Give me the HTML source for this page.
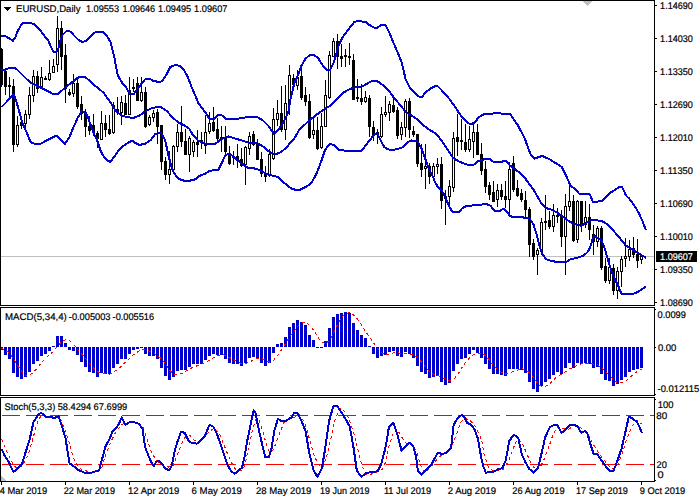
<!DOCTYPE html>
<html><head><meta charset="utf-8"><title>EURUSD,Daily</title>
<style>html,body{margin:0;padding:0;background:#fff;width:700px;height:500px;overflow:hidden}svg{display:block}</style>
</head><body>
<svg width="700" height="500" viewBox="0 0 700 500" shape-rendering="crispEdges">
<rect x="0" y="0" width="700" height="500" fill="#fff"/>
<rect x="1" y="256" width="653" height="1" fill="#c0c0c0"/>
<path d="M1.5 48V49M1.5 85V87M5.5 70V71M5.5 87V95M9.5 77V85M9.5 87V97M13.5 79V86M13.5 145V152M17.5 116V125M17.5 145V147M21.5 118V122M21.5 126V129M25.5 110V114M25.5 124V130M29.5 87V95M29.5 115V119M33.5 70V76M33.5 96V102M37.5 71V76M37.5 89V93M41.5 67V77M41.5 87V89M45.5 76V78M49.5 60V73M49.5 80V81M53.5 59V66M57.5 16V28M57.5 65V72M61.5 21V28M61.5 57V70M65.5 44V55M65.5 89V103M69.5 89V92M69.5 95V96M73.5 74V83M73.5 94V97M77.5 79V83M77.5 107V109M81.5 96V104M81.5 114V120M85.5 109V112M85.5 127V137M89.5 116V126M89.5 131V135M93.5 114V125M93.5 133V136M97.5 131V133M97.5 139V148M101.5 111V123M105.5 115V123M105.5 130V137M109.5 115V129M109.5 134V135M113.5 102V105M113.5 133V134M117.5 97V109M117.5 113V115M121.5 96V102M121.5 113V125M125.5 95V103M129.5 77V90M133.5 79V87M133.5 89V92M137.5 77V83M141.5 77V92M141.5 101V102M145.5 87V92M145.5 127V128M149.5 115V117M149.5 125V126M153.5 110V113M153.5 118V122M157.5 109V112M157.5 127V144M161.5 162V170M165.5 157V161M165.5 175V180M169.5 151V169M169.5 175V184M173.5 145V146M177.5 124V132M177.5 147V152M181.5 106V132M181.5 142V147M185.5 129V141M189.5 136V138M189.5 155V172M193.5 140V142M193.5 152V157M197.5 130V142M197.5 145V157M201.5 132V140M201.5 142V149M205.5 115V132M205.5 146V154M209.5 112V123M209.5 132V134M213.5 107V122M213.5 131V132M217.5 118V129M217.5 139V141M221.5 126V137M221.5 140V152M225.5 126V138M225.5 152V154M229.5 146V153M229.5 164V165M233.5 151V156M233.5 158V165M237.5 144V156M237.5 161V168M241.5 148V159M241.5 166V167M245.5 146V147M245.5 165V185M249.5 132V136M249.5 149V155M253.5 131V134M253.5 145V146M257.5 139V144M261.5 152V159M261.5 174V177M265.5 166V174M265.5 177V182M269.5 149V154M269.5 176V177M273.5 108V119M273.5 159V160M277.5 100V113M277.5 120V126M281.5 86V113M281.5 130V132M285.5 85V103M285.5 130V140M289.5 65V75M289.5 104V115M293.5 74V78M293.5 85V87M297.5 70V77M297.5 86V90M301.5 68V76M301.5 98V100M305.5 87V95M305.5 102V106M309.5 94V101M309.5 138V139M313.5 116V130M313.5 135V139M317.5 117V130M317.5 149V150M321.5 113V126M321.5 148V149M325.5 80V95M329.5 51V55M329.5 98V99M333.5 38V41M337.5 34V41M337.5 57V69M341.5 44V56M341.5 59V67M345.5 49V55M345.5 57V67M349.5 43V56M349.5 58V65M353.5 54V60M357.5 79V97M357.5 99V102M361.5 84V98M361.5 102V105M365.5 91V97M365.5 102V103M369.5 95V98M369.5 127V137M373.5 121V127M373.5 135V141M377.5 129V132M377.5 135V144M381.5 107V114M381.5 137V138M385.5 96V112M385.5 115V117M389.5 101V104M389.5 113V121M393.5 98V105M393.5 112V113M397.5 107V110M397.5 136V139M401.5 122V127M401.5 135V140M405.5 99V101M405.5 128V137M409.5 98V101M409.5 130V138M413.5 126V131M413.5 135V137M417.5 164V167M421.5 144V163M421.5 170V177M425.5 144V166M425.5 169V189M429.5 163V166M429.5 177V184M433.5 163V166M433.5 177V179M437.5 158V164M437.5 167V174M441.5 157V164M441.5 201V209M445.5 190V196M445.5 199V225M449.5 180V186M449.5 197V205M453.5 132V138M453.5 188V192M457.5 114V137M457.5 142V156M461.5 119V140M461.5 142V150M465.5 124V142M465.5 150V152M469.5 126V139M469.5 150V152M473.5 124V132M473.5 142V158M477.5 124V132M481.5 143V154M481.5 171V175M485.5 161V169M485.5 187V193M489.5 182V185M489.5 195V200M493.5 181V192M497.5 184V190M497.5 200V207M501.5 184V190M501.5 197V200M505.5 181V196M505.5 200V208M509.5 162V169M509.5 200V214M513.5 156V163M513.5 190V192M517.5 180V188M517.5 196V197M521.5 189V193M521.5 200V202M525.5 191V200M525.5 210V217M529.5 207V209M529.5 245V257M533.5 239V243M533.5 257V260M537.5 248V250M537.5 255V275M541.5 218V222M541.5 252V254M545.5 195V221M545.5 223V230M549.5 211V220M549.5 227V229M553.5 204V215M553.5 227V232M557.5 208V215M557.5 217V223M561.5 210V216M561.5 237V247M565.5 194V206M565.5 237V275M569.5 186V201M569.5 207V211M573.5 195V201M573.5 241V242M577.5 200V201M577.5 240V243M581.5 225V232M585.5 201V217M585.5 225V228M589.5 204V217M589.5 230V240M593.5 225V234M593.5 242V255M597.5 226V228M597.5 242V247M601.5 226V228M601.5 268V270M605.5 258V266M605.5 281V283M609.5 258V267M609.5 281V284M613.5 264V268M613.5 291V295M617.5 267V271M617.5 291V299M621.5 256V259M621.5 272V287M625.5 238V256M625.5 259V267M629.5 240V249M629.5 257V261M633.5 237V248M633.5 255V258M637.5 239V254M637.5 261V268M641.5 254V256M641.5 260V264" stroke="#000" stroke-width="1" fill="none"/>
<path d="M0 49h3v36h-3zM4 71h3v16h-3zM8 85h3v2h-3zM12 86h3v59h-3zM20 122h3v4h-3zM36 76h3v13h-3zM44 78h3v2h-3zM60 28h3v29h-3zM64 55h3v34h-3zM68 92h3v3h-3zM76 83h3v24h-3zM80 104h3v10h-3zM84 112h3v15h-3zM88 126h3v5h-3zM92 125h3v8h-3zM96 133h3v6h-3zM104 123h3v7h-3zM108 129h3v5h-3zM116 109h3v4h-3zM124 103h3v12h-3zM132 87h3v2h-3zM136 83h3v18h-3zM144 92h3v35h-3zM156 112h3v15h-3zM160 125h3v37h-3zM164 161h3v14h-3zM180 132h3v10h-3zM184 141h3v14h-3zM196 142h3v3h-3zM200 140h3v2h-3zM212 122h3v9h-3zM216 129h3v10h-3zM220 137h3v3h-3zM224 138h3v14h-3zM228 153h3v11h-3zM232 156h3v2h-3zM236 156h3v5h-3zM240 159h3v7h-3zM252 134h3v11h-3zM256 144h3v16h-3zM260 159h3v15h-3zM264 174h3v3h-3zM280 113h3v17h-3zM292 78h3v7h-3zM300 76h3v22h-3zM304 95h3v7h-3zM308 101h3v37h-3zM316 130h3v19h-3zM336 41h3v16h-3zM340 56h3v3h-3zM344 55h3v2h-3zM352 60h3v40h-3zM356 97h3v2h-3zM360 98h3v4h-3zM368 98h3v29h-3zM372 127h3v8h-3zM376 132h3v3h-3zM392 105h3v7h-3zM396 110h3v26h-3zM408 101h3v29h-3zM412 131h3v4h-3zM416 134h3v30h-3zM420 163h3v7h-3zM428 166h3v11h-3zM440 164h3v37h-3zM456 137h3v5h-3zM460 140h3v2h-3zM464 142h3v8h-3zM476 132h3v23h-3zM480 154h3v17h-3zM484 169h3v18h-3zM488 185h3v10h-3zM492 192h3v10h-3zM500 190h3v7h-3zM504 196h3v4h-3zM512 163h3v27h-3zM516 188h3v8h-3zM520 193h3v7h-3zM524 200h3v10h-3zM528 209h3v36h-3zM532 243h3v14h-3zM544 221h3v2h-3zM548 220h3v7h-3zM556 215h3v2h-3zM560 216h3v21h-3zM572 201h3v40h-3zM580 201h3v24h-3zM588 217h3v13h-3zM592 234h3v8h-3zM600 228h3v40h-3zM604 266h3v15h-3zM612 268h3v23h-3zM632 248h3v7h-3zM636 254h3v7h-3z" fill="#000"/>
<rect x="16.5" y="125.5" width="2" height="19" fill="#fff" stroke="#000"/><rect x="24.5" y="114.5" width="2" height="9" fill="#fff" stroke="#000"/><rect x="28.5" y="95.5" width="2" height="19" fill="#fff" stroke="#000"/><rect x="32.5" y="76.5" width="2" height="19" fill="#fff" stroke="#000"/><rect x="40.5" y="77.5" width="2" height="9" fill="#fff" stroke="#000"/><rect x="48.5" y="73.5" width="2" height="6" fill="#fff" stroke="#000"/><rect x="52.5" y="66.5" width="2" height="6" fill="#fff" stroke="#000"/><rect x="56.5" y="28.5" width="2" height="36" fill="#fff" stroke="#000"/><rect x="72.5" y="83.5" width="2" height="10" fill="#fff" stroke="#000"/><rect x="100.5" y="123.5" width="2" height="16" fill="#fff" stroke="#000"/><rect x="112.5" y="105.5" width="2" height="27" fill="#fff" stroke="#000"/><rect x="120.5" y="102.5" width="2" height="10" fill="#fff" stroke="#000"/><rect x="128.5" y="90.5" width="2" height="24" fill="#fff" stroke="#000"/><rect x="140.5" y="92.5" width="2" height="8" fill="#fff" stroke="#000"/><rect x="148.5" y="117.5" width="2" height="7" fill="#fff" stroke="#000"/><rect x="152.5" y="113.5" width="2" height="4" fill="#fff" stroke="#000"/><rect x="168.5" y="169.5" width="2" height="5" fill="#fff" stroke="#000"/><rect x="172.5" y="146.5" width="2" height="23" fill="#fff" stroke="#000"/><rect x="176.5" y="132.5" width="2" height="14" fill="#fff" stroke="#000"/><rect x="188.5" y="138.5" width="2" height="16" fill="#fff" stroke="#000"/><rect x="192.5" y="142.5" width="2" height="9" fill="#fff" stroke="#000"/><rect x="204.5" y="132.5" width="2" height="13" fill="#fff" stroke="#000"/><rect x="208.5" y="123.5" width="2" height="8" fill="#fff" stroke="#000"/><rect x="244.5" y="147.5" width="2" height="17" fill="#fff" stroke="#000"/><rect x="248.5" y="136.5" width="2" height="12" fill="#fff" stroke="#000"/><rect x="268.5" y="154.5" width="2" height="21" fill="#fff" stroke="#000"/><rect x="272.5" y="119.5" width="2" height="39" fill="#fff" stroke="#000"/><rect x="276.5" y="113.5" width="2" height="6" fill="#fff" stroke="#000"/><rect x="284.5" y="103.5" width="2" height="26" fill="#fff" stroke="#000"/><rect x="288.5" y="75.5" width="2" height="28" fill="#fff" stroke="#000"/><rect x="296.5" y="77.5" width="2" height="8" fill="#fff" stroke="#000"/><rect x="312.5" y="130.5" width="2" height="4" fill="#fff" stroke="#000"/><rect x="320.5" y="126.5" width="2" height="21" fill="#fff" stroke="#000"/><rect x="324.5" y="95.5" width="2" height="31" fill="#fff" stroke="#000"/><rect x="328.5" y="55.5" width="2" height="42" fill="#fff" stroke="#000"/><rect x="332.5" y="41.5" width="2" height="15" fill="#fff" stroke="#000"/><rect x="348.5" y="56.5" width="2" height="1" fill="#fff" stroke="#000"/><rect x="364.5" y="97.5" width="2" height="4" fill="#fff" stroke="#000"/><rect x="380.5" y="114.5" width="2" height="22" fill="#fff" stroke="#000"/><rect x="384.5" y="112.5" width="2" height="2" fill="#fff" stroke="#000"/><rect x="388.5" y="104.5" width="2" height="8" fill="#fff" stroke="#000"/><rect x="400.5" y="127.5" width="2" height="7" fill="#fff" stroke="#000"/><rect x="404.5" y="101.5" width="2" height="26" fill="#fff" stroke="#000"/><rect x="424.5" y="166.5" width="2" height="2" fill="#fff" stroke="#000"/><rect x="432.5" y="166.5" width="2" height="10" fill="#fff" stroke="#000"/><rect x="436.5" y="164.5" width="2" height="2" fill="#fff" stroke="#000"/><rect x="444.5" y="196.5" width="2" height="2" fill="#fff" stroke="#000"/><rect x="448.5" y="186.5" width="2" height="10" fill="#fff" stroke="#000"/><rect x="452.5" y="138.5" width="2" height="49" fill="#fff" stroke="#000"/><rect x="468.5" y="139.5" width="2" height="10" fill="#fff" stroke="#000"/><rect x="472.5" y="132.5" width="2" height="9" fill="#fff" stroke="#000"/><rect x="496.5" y="190.5" width="2" height="9" fill="#fff" stroke="#000"/><rect x="508.5" y="169.5" width="2" height="30" fill="#fff" stroke="#000"/><rect x="536.5" y="250.5" width="2" height="4" fill="#fff" stroke="#000"/><rect x="540.5" y="222.5" width="2" height="29" fill="#fff" stroke="#000"/><rect x="552.5" y="215.5" width="2" height="11" fill="#fff" stroke="#000"/><rect x="564.5" y="206.5" width="2" height="30" fill="#fff" stroke="#000"/><rect x="568.5" y="201.5" width="2" height="5" fill="#fff" stroke="#000"/><rect x="576.5" y="201.5" width="2" height="38" fill="#fff" stroke="#000"/><rect x="584.5" y="217.5" width="2" height="7" fill="#fff" stroke="#000"/><rect x="596.5" y="228.5" width="2" height="13" fill="#fff" stroke="#000"/><rect x="608.5" y="267.5" width="2" height="13" fill="#fff" stroke="#000"/><rect x="616.5" y="271.5" width="2" height="19" fill="#fff" stroke="#000"/><rect x="620.5" y="259.5" width="2" height="12" fill="#fff" stroke="#000"/><rect x="624.5" y="256.5" width="2" height="2" fill="#fff" stroke="#000"/><rect x="628.5" y="249.5" width="2" height="7" fill="#fff" stroke="#000"/><rect x="640.5" y="256.5" width="2" height="3" fill="#fff" stroke="#000"/>
<polyline points="1.5,36.5 4.5,35.8 8.5,38.0 13.0,40.8 15.5,37.0 17.5,31.5 20.5,26.0 22.5,23.5 25.5,22.8 29.5,22.8 33.5,24.0 37.5,27.0 40.5,30.5 44.5,36.0 48.5,41.0 51.5,48.0 53.5,52.0 56.5,51.6 58.5,48.0 60.5,40.0 62.5,35.0 66.5,31.0 70.5,31.6 74.5,36.0 78.5,40.0 82.5,42.0 86.5,40.6 90.5,36.6 94.5,32.6 98.5,31.6 102.5,32.0 106.5,35.0 110.5,42.0 112.5,50.0 114.5,58.0 116.5,69.0 117.9,75.7 122.2,82.9 126.5,87.9 129.5,93.6 133.5,94.3 137.9,88.6 142.2,82.9 145.8,78.6 149.4,78.6 153.6,81.1 157.9,81.7 162.2,81.4 166.5,74.3 170.1,67.1 175.1,65.0 179.4,65.7 183.6,69.3 187.9,77.1 192.2,88.6 195.4,95.7 198.2,102.9 202.5,108.6 206.8,114.3 209.6,119.3 213.9,119.3 217.5,115.5 221.8,115.3 226.8,119.3 233.9,119.3 242.5,117.9 249.6,116.9 256.8,117.0 262.5,120.0 268.2,125.7 270.5,129.0 273.9,133.6 278.2,130.0 283.9,121.4 288.2,112.9 289.9,102.0 294.2,83.6 297.1,77.1 301.4,65.7 305.6,58.6 309.9,55.0 314.2,55.0 318.5,58.6 322.8,65.7 327.1,70.0 329.9,70.0 334.2,61.4 338.5,45.7 342.8,37.1 348.5,29.3 354.2,22.1 357.5,21.0 361.5,21.5 365.5,22.0 369.5,25.0 373.5,27.5 377.5,27.5 381.5,25.0 385.5,25.0 389.5,33.0 393.5,43.0 397.5,52.0 401.5,62.0 403.5,70.0 405.5,79.0 409.5,87.0 413.5,91.5 418.5,96.5 422.5,96.5 425.5,92.5 430.5,88.5 435.5,86.0 437.5,86.0 440.5,89.0 445.5,94.5 449.5,99.0 453.0,104.0 455.9,107.9 458.8,112.9 464.5,120.0 470.2,124.3 474.5,122.9 478.8,117.1 483.8,114.4 497.1,113.1 510.4,114.4 518.3,125.9 525.0,139.2 530.3,153.8 534.3,158.6 542.3,155.9 550.2,159.6 557.6,164.3 561.9,167.1 566.2,175.7 570.5,185.7 574.8,188.6 579.1,193.6 583.4,194.3 589.9,194.4 593.1,202.4 597.1,201.6 602.7,200.8 608.3,194.4 611.5,192.0 615.5,189.6 619.5,186.9 621.9,187.2 624.3,191.2 625.9,195.5 629.1,198.4 633.9,204.8 638.7,212.8 642.7,221.6 645.9,230.0" fill="none" stroke="#0000cd" stroke-width="2" stroke-linejoin="round"/>
<polyline points="1.5,70.5 5.5,69.5 9.5,68.0 14.5,67.8 16.5,69.0 20.5,73.0 25.5,78.0 30.5,82.8 34.5,84.5 40.5,87.5 45.5,90.0 50.5,92.5 52.5,93.8 58.5,93.8 62.5,90.0 66.5,86.5 70.5,83.5 72.5,82.0 76.5,78.4 80.5,76.6 84.5,76.6 88.5,79.8 92.5,83.5 96.5,87.0 100.5,90.0 103.6,92.9 110.8,102.9 115.1,110.0 120.8,115.0 126.5,117.1 133.6,117.9 139.4,115.7 145.1,111.4 150.8,108.6 156.5,107.1 160.8,107.1 166.5,110.7 172.2,117.1 177.9,122.1 183.6,125.0 189.4,128.9 192.5,134.3 198.2,140.7 206.8,144.3 215.4,143.6 222.5,138.6 228.2,136.4 235.4,138.6 242.5,140.7 249.6,142.9 258.2,143.6 263.9,147.1 269.6,152.1 275.4,154.3 281.1,152.1 286.8,147.1 288.5,145.0 294.2,138.6 299.9,128.6 302.8,126.4 309.9,120.0 317.1,114.3 324.2,109.3 331.4,105.0 337.1,98.6 342.8,92.9 349.9,89.0 357.1,86.8 362.8,86.4 367.1,83.6 372.8,80.7 377.1,81.0 382.8,85.0 388.0,89.5 394.5,98.6 400.2,105.0 405.9,112.1 411.6,115.7 417.4,119.3 423.1,125.0 428.8,129.3 434.5,132.9 438.8,137.1 443.1,142.9 447.4,149.3 453.1,157.9 458.8,161.4 465.9,164.3 469.5,165.0 473.5,165.0 477.5,161.5 481.5,159.8 485.5,159.2 489.5,158.8 493.5,161.8 497.5,161.8 501.5,161.8 505.5,160.6 509.5,165.0 513.5,168.2 517.5,171.0 521.5,174.5 525.5,178.8 529.5,184.3 533.5,189.5 537.5,196.5 541.5,203.5 545.5,208.0 550.5,209.3 557.6,212.9 563.4,217.1 569.1,221.4 574.8,224.3 580.5,225.7 584.8,224.0 590.5,220.5 596.2,220.3 601.9,221.0 607.6,224.3 613.4,230.7 619.1,237.1 625.8,245.6 634.3,250.7 646.2,257.9" fill="none" stroke="#0000cd" stroke-width="2" stroke-linejoin="round"/>
<polyline points="1.5,107.0 6.5,102.0 12.5,95.0 13.5,94.0 15.5,99.0 18.0,107.0 21.9,121.4 26.2,131.4 30.5,142.1 34.8,143.9 40.5,143.9 46.2,140.7 51.9,137.9 56.2,135.7 59.1,137.9 64.8,143.9 69.1,137.9 73.4,127.5 77.6,118.0 81.9,111.0 86.2,112.9 90.5,124.5 94.8,135.7 96.5,138.6 100.8,151.4 105.1,158.6 110.1,162.1 115.1,155.7 119.4,149.3 123.6,145.7 127.9,142.9 132.2,140.7 135.1,142.9 139.4,145.0 145.1,143.6 150.8,140.0 155.1,134.3 160.8,132.9 165.1,140.0 168.2,154.3 171.1,165.7 173.9,172.9 178.2,178.6 183.9,180.7 189.6,180.7 195.4,179.3 199.6,175.9 205.4,173.6 209.6,170.7 218.2,170.0 222.5,161.4 225.4,155.0 229.6,153.6 233.9,157.1 238.2,160.7 242.5,164.0 248.2,167.9 255.4,168.6 261.1,170.7 266.8,174.3 272.5,175.7 278.2,177.1 281.5,180.7 285.9,184.3 291.6,188.6 295.9,190.0 299.9,189.7 306.8,186.3 311.4,182.9 315.9,174.9 320.5,163.4 325.1,149.7 329.6,144.0 334.2,145.1 338.8,149.7 345.6,150.7 352.8,151.4 361.4,150.7 365.6,145.7 369.9,140.0 374.2,134.3 377.1,132.9 379.9,138.6 384.2,147.1 388.5,149.5 393.1,150.0 398.8,148.6 403.1,147.1 407.4,142.1 411.6,140.5 417.4,141.2 421.6,148.6 425.2,158.6 428.8,168.6 433.1,177.1 434.5,181.0 438.5,188.0 441.5,190.0 445.5,197.0 448.5,205.0 452.5,212.0 458.5,212.5 462.5,208.0 466.5,206.0 472.5,205.5 478.5,205.0 486.5,204.0 490.5,205.7 494.8,211.4 499.1,211.4 503.4,208.6 507.6,212.9 510.5,216.4 517.6,217.1 529.1,217.9 533.4,224.3 536.2,232.9 539.1,244.0 541.9,253.6 546.2,259.3 553.4,261.4 560.5,262.1 566.2,261.9 570.5,259.3 577.6,257.6 583.4,255.7 587.6,252.1 590.5,246.4 592.6,239.3 594.1,235.7 597.6,237.9 601.2,240.0 604.1,246.4 606.2,253.6 609.1,263.6 611.9,272.1 614.8,279.3 619.1,287.9 621.5,294.1 632.5,294.3 638.5,291.5 646.2,286.4" fill="none" stroke="#0000cd" stroke-width="2" stroke-linejoin="round"/>
<path d="M0 347h3v3h-3zM4 347h3v8h-3zM8 347h3v12h-3zM12 347h3v26h-3zM16 347h3v30h-3zM20 347h3v32h-3zM24 347h3v30h-3zM28 347h3v25h-3zM32 347h3v17h-3zM36 347h3v14h-3zM40 347h3v9h-3zM44 347h3v7h-3zM48 347h3v4h-3zM52 346h3v1h-3zM56 336h3v11h-3zM60 336h3v11h-3zM64 343h3v4h-3zM68 347h3v3h-3zM72 347h3v4h-3zM76 347h3v8h-3zM80 347h3v15h-3zM84 347h3v20h-3zM88 347h3v25h-3zM92 347h3v26h-3zM96 347h3v30h-3zM100 347h3v26h-3zM104 347h3v27h-3zM108 347h3v27h-3zM112 347h3v21h-3zM116 347h3v17h-3zM120 347h3v12h-3zM124 347h3v12h-3zM128 347h3v7h-3zM132 347h3v3h-3zM136 347h3v2h-3zM140 347h3v1h-3zM144 347h3v7h-3zM148 347h3v9h-3zM152 347h3v9h-3zM156 347h3v12h-3zM160 347h3v21h-3zM164 347h3v29h-3zM168 347h3v33h-3zM172 347h3v30h-3zM176 347h3v24h-3zM180 347h3v23h-3zM184 347h3v23h-3zM188 347h3v20h-3zM192 347h3v17h-3zM196 347h3v17h-3zM200 347h3v17h-3zM204 347h3v13h-3zM208 347h3v9h-3zM212 347h3v7h-3zM216 347h3v8h-3zM220 347h3v8h-3zM224 347h3v12h-3zM228 347h3v16h-3zM232 347h3v17h-3zM236 347h3v17h-3zM240 347h3v19h-3zM244 347h3v16h-3zM248 347h3v11h-3zM252 347h3v10h-3zM256 347h3v12h-3zM260 347h3v16h-3zM264 347h3v19h-3zM268 347h3v16h-3zM272 347h3v6h-3zM276 344h3v3h-3zM280 343h3v4h-3zM284 337h3v10h-3zM288 327h3v20h-3zM292 323h3v24h-3zM296 320h3v27h-3zM300 322h3v25h-3zM304 325h3v22h-3zM308 335h3v12h-3zM312 340h3v7h-3zM316 347h3v1h-3zM320 347h3v1h-3zM324 341h3v6h-3zM328 328h3v19h-3zM332 317h3v30h-3zM336 314h3v33h-3zM340 313h3v34h-3zM344 312h3v35h-3zM348 313h3v34h-3zM352 323h3v24h-3zM356 330h3v17h-3zM360 335h3v12h-3zM364 338h3v9h-3zM368 346h3v1h-3zM372 347h3v7h-3zM376 347h3v11h-3zM380 347h3v9h-3zM384 347h3v8h-3zM388 347h3v5h-3zM392 347h3v4h-3zM396 347h3v9h-3zM400 347h3v10h-3zM404 347h3v5h-3zM408 347h3v7h-3zM412 347h3v11h-3zM416 347h3v19h-3zM420 347h3v25h-3zM424 347h3v27h-3zM428 347h3v31h-3zM432 347h3v30h-3zM436 347h3v29h-3zM440 347h3v35h-3zM444 347h3v38h-3zM448 347h3v36h-3zM452 347h3v24h-3zM456 347h3v17h-3zM460 347h3v12h-3zM464 347h3v11h-3zM468 347h3v7h-3zM472 347h3v3h-3zM476 347h3v6h-3zM480 347h3v11h-3zM484 347h3v17h-3zM488 347h3v22h-3zM492 347h3v27h-3zM496 347h3v27h-3zM500 347h3v28h-3zM504 347h3v29h-3zM508 347h3v22h-3zM512 347h3v22h-3zM516 347h3v22h-3zM520 347h3v23h-3zM524 347h3v26h-3zM528 347h3v35h-3zM532 347h3v42h-3zM536 347h3v45h-3zM540 347h3v39h-3zM544 347h3v35h-3zM548 347h3v32h-3zM552 347h3v28h-3zM556 347h3v25h-3zM560 347h3v27h-3zM564 347h3v21h-3zM568 347h3v16h-3zM572 347h3v21h-3zM576 347h3v16h-3zM580 347h3v17h-3zM584 347h3v16h-3zM588 347h3v17h-3zM592 347h3v21h-3zM596 347h3v20h-3zM600 347h3v27h-3zM604 347h3v33h-3zM608 347h3v34h-3zM612 347h3v39h-3zM616 347h3v37h-3zM620 347h3v33h-3zM624 347h3v30h-3zM628 347h3v25h-3zM632 347h3v23h-3zM636 347h3v22h-3zM640 347h3v21h-3z" fill="#0000cd"/>
<polyline points="1.5,348.2 5.5,350.4 9.5,353.3 13.5,358.8 17.5,365.4 21.5,371.2 25.5,375.8 29.5,375.4 33.5,372.2 37.5,367.7 41.5,362.5 45.5,358.1 49.5,355.0 53.5,351.3 57.5,346.2 61.5,341.7 65.5,339.7 69.5,340.7 73.5,344.4 77.5,349.3 81.5,354.0 85.5,358.2 89.5,363.4 93.5,367.9 97.5,371.6 101.5,373.2 105.5,373.9 109.5,374.1 113.5,371.9 117.5,369.7 121.5,365.9 125.5,362.0 129.5,358.4 133.5,354.7 137.5,352.1 141.5,349.5 145.5,349.5 149.5,351.1 153.5,352.8 157.5,355.4 161.5,359.0 165.5,363.9 169.5,369.9 173.5,374.4 177.5,375.1 181.5,373.6 185.5,371.1 189.5,368.8 193.5,367.2 197.5,365.6 201.5,364.1 205.5,362.2 209.5,360.1 213.5,357.6 217.5,355.6 221.5,354.5 225.5,355.2 229.5,357.5 233.5,359.5 237.5,361.8 241.5,363.5 245.5,363.5 249.5,362.0 253.5,360.1 257.5,358.5 261.5,358.5 265.5,360.5 269.5,362.0 273.5,360.4 277.5,355.6 281.5,349.9 285.5,343.6 289.5,337.1 293.5,331.9 297.5,326.3 301.5,322.6 305.5,322.1 309.5,325.2 313.5,330.1 317.5,336.6 321.5,342.2 325.5,343.7 329.5,340.6 333.5,333.0 337.5,324.6 341.5,317.6 345.5,313.6 349.5,312.6 353.5,314.9 357.5,319.1 361.5,324.9 365.5,331.2 369.5,336.9 373.5,342.8 377.5,348.4 381.5,352.7 385.5,354.9 389.5,354.5 393.5,352.9 397.5,352.8 401.5,353.3 405.5,353.4 409.5,354.3 413.5,354.9 417.5,357.1 421.5,362.1 425.5,366.9 429.5,371.8 433.5,374.5 437.5,375.4 441.5,377.5 445.5,379.2 449.5,380.7 453.5,379.5 457.5,374.9 461.5,368.4 465.5,362.1 469.5,357.8 473.5,354.5 477.5,353.0 481.5,353.1 485.5,355.6 489.5,360.2 493.5,365.5 497.5,369.6 501.5,372.3 505.5,374.0 509.5,372.8 513.5,371.6 517.5,370.1 521.5,368.6 525.5,369.6 529.5,372.8 533.5,377.8 537.5,383.3 541.5,386.5 545.5,386.5 549.5,384.1 553.5,379.8 557.5,376.3 561.5,374.4 565.5,371.7 569.5,368.8 573.5,367.6 577.5,364.8 581.5,363.8 585.5,363.9 589.5,362.9 593.5,364.1 597.5,364.9 601.5,367.5 605.5,371.7 609.5,375.1 613.5,380.0 617.5,382.7 621.5,382.7 625.5,381.5 629.5,377.9 633.5,374.2 637.5,371.2 641.5,369.1" fill="none" stroke="#ff0000" stroke-width="1" stroke-dasharray="3,3"/>
<line x1="2" y1="415.5" x2="654" y2="415.5" stroke="#ff0000" stroke-width="1" stroke-dasharray="18,6"/>
<line x1="2" y1="464.5" x2="654" y2="464.5" stroke="#ff0000" stroke-width="1" stroke-dasharray="18,6"/>
<polyline points="1.5,439.0 5.5,449.0 9.5,457.0 13.5,465.1 17.5,468.7 21.5,466.0 25.5,460.6 29.5,450.8 33.5,436.4 37.5,422.0 41.5,414.8 45.5,416.2 49.5,416.6 53.5,417.0 57.5,416.2 61.5,421.1 65.5,431.0 69.5,443.6 73.5,458.0 77.5,466.0 81.5,469.6 85.5,470.5 89.5,472.3 93.5,472.3 97.5,471.4 101.9,467.0 106.4,452.6 110.9,441.8 116.3,431.0 121.7,424.7 127.1,422.0 132.5,422.0 137.9,422.9 143.3,427.4 147.8,441.8 152.3,454.4 157.7,461.5 163.0,465.1 168.5,467.0 172.9,466.0 177.4,454.4 181.0,445.4 184.6,437.3 190.0,435.5 192.5,439.0 197.9,442.7 203.3,439.0 208.7,431.9 214.1,428.3 219.5,433.7 224.9,447.2 230.3,460.6 235.7,469.6 241.1,470.5 244.7,466.0 248.3,449.0 251.9,432.8 255.5,419.3 259.0,420.2 262.6,431.0 266.2,443.6 269.8,452.6 273.4,449.9 277.0,440.0 280.6,431.0 284.2,422.0 287.8,420.2 293.9,417.5 299.3,414.8 304.7,422.0 309.2,438.2 313.7,454.4 318.2,464.2 322.7,467.8 327.2,454.4 331.7,434.6 335.3,418.4 339.8,408.5 344.3,411.2 348.8,418.4 353.2,431.0 357.7,449.0 362.2,467.0 366.7,474.1 371.2,474.1 376.6,472.3 382.0,469.6 385.6,462.4 388.1,449.0 392.6,434.6 397.1,429.2 402.5,438.2 407.0,444.5 412.4,444.5 416.9,452.6 420.5,465.1 425.0,472.3 430.4,467.8 435.8,460.6 441.2,455.3 447.5,451.7 451.9,445.4 456.4,434.6 460.9,422.0 465.4,418.4 470.8,421.1 476.2,427.4 481.6,440.0 484.1,454.4 488.6,467.8 494.0,471.4 498.5,470.5 503.0,469.6 508.4,461.5 512.9,449.0 517.4,439.0 521.9,442.7 526.4,452.6 530.9,463.3 535.4,469.6 539.9,467.8 544.3,458.8 548.8,447.2 553.3,433.7 557.8,426.5 563.2,428.3 568.6,429.2 574.0,425.6 578.5,427.4 582.1,428.3 587.5,433.7 592.9,443.6 598.3,452.6 603.7,459.7 609.1,466.0 613.6,468.7 618.1,464.2 622.6,452.6 627.0,438.2 632.4,425.6 637.8,420.2 641.4,423.8" fill="none" stroke="#ff0000" stroke-width="1" stroke-dasharray="3,3"/>
<polyline points="1.5,449.0 4.5,455.3 8.5,461.5 13.5,472.0 17.5,468.4 22.0,463.7 25.5,452.6 29.5,440.0 33.5,422.0 37.5,415.7 40.5,413.0 43.5,413.9 45.5,416.6 50.5,417.0 54.5,418.0 58.5,416.2 61.5,424.7 65.5,438.2 69.5,463.3 73.5,466.0 77.5,469.6 81.5,471.4 85.5,473.2 89.5,473.2 93.5,472.0 97.5,470.5 99.2,470.5 101.9,459.7 105.5,446.3 109.1,440.0 112.7,431.0 116.3,427.7 119.0,423.8 121.7,417.5 125.3,424.7 129.8,422.0 134.3,422.3 138.8,423.8 142.4,428.3 145.1,447.2 148.7,456.2 151.4,462.4 154.1,466.0 155.9,462.4 158.5,460.6 162.1,464.2 165.7,468.7 169.3,470.5 172.0,465.1 174.7,450.8 177.4,441.8 181.0,431.9 184.6,432.8 188.2,440.0 191.8,443.2 197.0,443.6 200.6,440.9 205.1,435.5 209.6,424.7 213.2,426.5 216.8,433.7 220.4,443.6 224.0,454.4 227.6,465.1 231.2,471.4 234.8,473.8 238.4,470.5 242.0,467.8 244.7,456.2 247.4,440.0 250.1,427.4 251.9,418.4 253.7,410.3 255.5,413.0 257.2,422.0 259.9,434.6 262.6,446.3 265.3,457.0 268.9,457.0 271.6,448.1 274.3,431.0 277.9,418.7 281.5,421.1 286.0,421.1 289.6,418.4 291.2,418.4 293.9,413.0 297.5,413.0 301.1,420.2 305.6,431.0 309.2,452.6 313.7,470.5 317.3,476.8 321.8,468.7 325.4,447.2 329.0,421.1 333.5,405.8 337.1,405.8 340.7,411.2 345.2,418.4 349.7,426.5 353.2,445.4 356.8,470.5 361.3,476.8 365.8,473.2 371.2,472.0 377.5,471.4 381.1,464.2 384.7,450.8 386.3,443.6 389.0,426.5 393.5,422.9 397.1,433.7 401.6,450.8 406.1,446.3 409.7,442.7 413.3,446.3 416.0,456.2 417.8,470.5 421.4,474.7 425.9,470.2 431.3,465.1 437.6,452.6 442.1,454.0 446.6,452.6 451.0,448.1 453.7,424.7 458.2,417.5 461.8,414.8 464.5,417.5 467.2,422.9 470.8,424.7 474.4,429.2 478.0,439.0 481.6,459.7 483.2,466.0 485.9,472.7 490.4,472.0 494.9,471.4 498.5,468.7 502.1,468.4 505.7,460.6 509.3,440.9 513.8,434.6 518.3,438.2 521.9,454.4 525.5,462.4 529.1,468.7 533.6,472.7 538.1,467.8 541.7,452.6 545.2,437.3 549.7,427.4 553.3,425.2 557.8,425.2 561.4,433.0 565.0,430.1 569.5,425.2 574.0,424.7 577.6,426.5 581.2,432.8 584.8,431.0 587.5,433.7 590.2,443.6 593.8,454.4 597.4,454.4 601.0,459.7 605.5,466.0 609.1,470.5 613.6,470.5 617.2,461.5 621.7,448.1 625.2,432.8 628.8,416.6 632.4,418.4 636.9,422.0 639.6,427.4 641.8,432.8" fill="none" stroke="#0000cd" stroke-width="2" stroke-linejoin="round"/>
<rect x="655" y="0" width="45" height="500" fill="#fff"/>
<rect x="0" y="306" width="655" height="1" fill="#fff"/>
<rect x="0" y="396" width="655" height="1" fill="#fff"/>
<rect x="0" y="482" width="655" height="18" fill="#fff"/>
<rect x="0.5" y="0.5" width="654" height="305" fill="none" stroke="#000"/>
<rect x="0.5" y="307.5" width="654" height="88" fill="none" stroke="#000"/>
<rect x="0.5" y="397.5" width="654" height="84" fill="none" stroke="#000"/>
<path d="M583 1h9l-4.5 5z" fill="#c0c0c0"/>
<path d="M1 476v5h5z" fill="#c0c0c0"/>
<path d="M4 7h7l-3.5 4z" fill="#000"/>
<path d="M655 5h2v1h-2zM655 38h2v1h-2zM655 71h2v1h-2zM655 104h2v1h-2zM655 137h2v1h-2zM655 170h2v1h-2zM655 203h2v1h-2zM655 236h2v1h-2zM655 269h2v1h-2zM655 302h2v1h-2zM655 309h1v1h-1zM655 347h1v1h-1zM655 394h1v1h-1zM655 399h1v1h-1zM655 480h1v1h-1zM1 482h1v3h-1zM65 482h1v3h-1zM129 482h1v3h-1zM193 482h1v3h-1zM257 482h1v3h-1zM321 482h1v3h-1zM385 482h1v3h-1zM449 482h1v3h-1zM513 482h1v3h-1zM577 482h1v3h-1zM641 482h1v3h-1z" fill="#000"/>
<rect x="656" y="251" width="41" height="11" fill="#000"/>
<g shape-rendering="auto">
<text x="16.0" y="12" font-family="'Liberation Sans', sans-serif" font-size="9.7" text-rendering="geometricPrecision" fill="#000" stroke="#000" stroke-width="0.2" textLength="64.5" lengthAdjust="spacingAndGlyphs">EURUSD,Daily</text>
<text x="85.9" y="12" font-family="'Liberation Sans', sans-serif" font-size="9.7" text-rendering="geometricPrecision" fill="#000" stroke="#000" stroke-width="0.2" textLength="33.2" lengthAdjust="spacingAndGlyphs">1.09553</text>
<text x="122.4" y="12" font-family="'Liberation Sans', sans-serif" font-size="9.7" text-rendering="geometricPrecision" fill="#000" stroke="#000" stroke-width="0.2" textLength="32.7" lengthAdjust="spacingAndGlyphs">1.09646</text>
<text x="158.1" y="12" font-family="'Liberation Sans', sans-serif" font-size="9.7" text-rendering="geometricPrecision" fill="#000" stroke="#000" stroke-width="0.2" textLength="33.1" lengthAdjust="spacingAndGlyphs">1.09495</text>
<text x="194.1" y="12" font-family="'Liberation Sans', sans-serif" font-size="9.7" text-rendering="geometricPrecision" fill="#000" stroke="#000" stroke-width="0.2" textLength="33.3" lengthAdjust="spacingAndGlyphs">1.09607</text>
<text x="5.0" y="320" font-family="'Liberation Sans', sans-serif" font-size="9.7" text-rendering="geometricPrecision" fill="#000" stroke="#000" stroke-width="0.2" textLength="61.8" lengthAdjust="spacingAndGlyphs">MACD(5,34,4)</text>
<text x="68.8" y="320" font-family="'Liberation Sans', sans-serif" font-size="9.7" text-rendering="geometricPrecision" fill="#000" stroke="#000" stroke-width="0.2" textLength="41.7" lengthAdjust="spacingAndGlyphs">-0.005003</text>
<text x="112.6" y="320" font-family="'Liberation Sans', sans-serif" font-size="9.7" text-rendering="geometricPrecision" fill="#000" stroke="#000" stroke-width="0.2" textLength="41.5" lengthAdjust="spacingAndGlyphs">-0.005516</text>
<text x="4.5" y="410" font-family="'Liberation Sans', sans-serif" font-size="9.7" text-rendering="geometricPrecision" fill="#000" stroke="#000" stroke-width="0.2" textLength="50.8" lengthAdjust="spacingAndGlyphs">Stoch(5,3,3)</text>
<text x="57.7" y="410" font-family="'Liberation Sans', sans-serif" font-size="9.7" text-rendering="geometricPrecision" fill="#000" stroke="#000" stroke-width="0.2" textLength="33.5" lengthAdjust="spacingAndGlyphs">58.4294</text>
<text x="93.6" y="410" font-family="'Liberation Sans', sans-serif" font-size="9.7" text-rendering="geometricPrecision" fill="#000" stroke="#000" stroke-width="0.2" textLength="33.7" lengthAdjust="spacingAndGlyphs">67.6999</text>
<text x="660.1" y="9" font-family="'Liberation Sans', sans-serif" font-size="9.7" text-rendering="geometricPrecision" fill="#000" stroke="#000" stroke-width="0.2" textLength="32.8" lengthAdjust="spacingAndGlyphs">1.14690</text>
<text x="660.1" y="42" font-family="'Liberation Sans', sans-serif" font-size="9.7" text-rendering="geometricPrecision" fill="#000" stroke="#000" stroke-width="0.2" textLength="32.8" lengthAdjust="spacingAndGlyphs">1.14030</text>
<text x="660.1" y="75" font-family="'Liberation Sans', sans-serif" font-size="9.7" text-rendering="geometricPrecision" fill="#000" stroke="#000" stroke-width="0.2" textLength="32.8" lengthAdjust="spacingAndGlyphs">1.13350</text>
<text x="660.1" y="108" font-family="'Liberation Sans', sans-serif" font-size="9.7" text-rendering="geometricPrecision" fill="#000" stroke="#000" stroke-width="0.2" textLength="32.8" lengthAdjust="spacingAndGlyphs">1.12690</text>
<text x="660.1" y="141" font-family="'Liberation Sans', sans-serif" font-size="9.7" text-rendering="geometricPrecision" fill="#000" stroke="#000" stroke-width="0.2" textLength="32.8" lengthAdjust="spacingAndGlyphs">1.12010</text>
<text x="660.1" y="174" font-family="'Liberation Sans', sans-serif" font-size="9.7" text-rendering="geometricPrecision" fill="#000" stroke="#000" stroke-width="0.2" textLength="32.8" lengthAdjust="spacingAndGlyphs">1.11350</text>
<text x="660.1" y="207" font-family="'Liberation Sans', sans-serif" font-size="9.7" text-rendering="geometricPrecision" fill="#000" stroke="#000" stroke-width="0.2" textLength="32.8" lengthAdjust="spacingAndGlyphs">1.10690</text>
<text x="660.1" y="240" font-family="'Liberation Sans', sans-serif" font-size="9.7" text-rendering="geometricPrecision" fill="#000" stroke="#000" stroke-width="0.2" textLength="32.8" lengthAdjust="spacingAndGlyphs">1.10010</text>
<text x="660.1" y="273" font-family="'Liberation Sans', sans-serif" font-size="9.7" text-rendering="geometricPrecision" fill="#000" stroke="#000" stroke-width="0.2" textLength="32.8" lengthAdjust="spacingAndGlyphs">1.09350</text>
<text x="660.1" y="306" font-family="'Liberation Sans', sans-serif" font-size="9.7" text-rendering="geometricPrecision" fill="#000" stroke="#000" stroke-width="0.2" textLength="32.8" lengthAdjust="spacingAndGlyphs">1.08690</text>
<text x="660.1" y="260" font-family="'Liberation Sans', sans-serif" font-size="9.7" text-rendering="geometricPrecision" fill="#fff" stroke="#fff" stroke-width="0.2" textLength="32.8" lengthAdjust="spacingAndGlyphs">1.09607</text>
<text x="657.5" y="318" font-family="'Liberation Sans', sans-serif" font-size="9.7" text-rendering="geometricPrecision" fill="#000" stroke="#000" stroke-width="0.2" textLength="28.4" lengthAdjust="spacingAndGlyphs">0.0099</text>
<text x="657.9" y="351" font-family="'Liberation Sans', sans-serif" font-size="9.7" text-rendering="geometricPrecision" fill="#000" stroke="#000" stroke-width="0.2" textLength="18.5" lengthAdjust="spacingAndGlyphs">0.00</text>
<text x="657.5" y="392" font-family="'Liberation Sans', sans-serif" font-size="9.7" text-rendering="geometricPrecision" fill="#000" stroke="#000" stroke-width="0.2" textLength="41.7" lengthAdjust="spacingAndGlyphs">-0.012115</text>
<text x="657.7" y="408" font-family="'Liberation Sans', sans-serif" font-size="9.7" text-rendering="geometricPrecision" fill="#000" stroke="#000" stroke-width="0.2" textLength="15.7" lengthAdjust="spacingAndGlyphs">100</text>
<text x="656.2" y="419" font-family="'Liberation Sans', sans-serif" font-size="9.7" text-rendering="geometricPrecision" fill="#000" stroke="#000" stroke-width="0.2" textLength="10.9" lengthAdjust="spacingAndGlyphs">80</text>
<text x="656.5" y="468" font-family="'Liberation Sans', sans-serif" font-size="9.7" text-rendering="geometricPrecision" fill="#000" stroke="#000" stroke-width="0.2" textLength="10.3" lengthAdjust="spacingAndGlyphs">20</text>
<text x="657.4" y="478" font-family="'Liberation Sans', sans-serif" font-size="9.7" text-rendering="geometricPrecision" fill="#000" stroke="#000" stroke-width="0.2" textLength="6.1" lengthAdjust="spacingAndGlyphs">0</text>
<text x="-0.3" y="494" font-family="'Liberation Sans', sans-serif" font-size="9.7" text-rendering="geometricPrecision" fill="#000" stroke="#000" stroke-width="0.2" textLength="47.4" lengthAdjust="spacingAndGlyphs">4 Mar 2019</text>
<text x="63.8" y="494" font-family="'Liberation Sans', sans-serif" font-size="9.7" text-rendering="geometricPrecision" fill="#000" stroke="#000" stroke-width="0.2" textLength="51.2" lengthAdjust="spacingAndGlyphs">22 Mar 2019</text>
<text x="128.1" y="494" font-family="'Liberation Sans', sans-serif" font-size="9.7" text-rendering="geometricPrecision" fill="#000" stroke="#000" stroke-width="0.2" textLength="51.2" lengthAdjust="spacingAndGlyphs">12 Apr 2019</text>
<text x="191.6" y="494" font-family="'Liberation Sans', sans-serif" font-size="9.7" text-rendering="geometricPrecision" fill="#000" stroke="#000" stroke-width="0.2" textLength="50.3" lengthAdjust="spacingAndGlyphs">6 May 2019</text>
<text x="256.0" y="494" font-family="'Liberation Sans', sans-serif" font-size="9.7" text-rendering="geometricPrecision" fill="#000" stroke="#000" stroke-width="0.2" textLength="55.4" lengthAdjust="spacingAndGlyphs">28 May 2019</text>
<text x="320.1" y="494" font-family="'Liberation Sans', sans-serif" font-size="9.7" text-rendering="geometricPrecision" fill="#000" stroke="#000" stroke-width="0.2" textLength="49.5" lengthAdjust="spacingAndGlyphs">19 Jun 2019</text>
<text x="383.9" y="494" font-family="'Liberation Sans', sans-serif" font-size="9.7" text-rendering="geometricPrecision" fill="#000" stroke="#000" stroke-width="0.2" textLength="47.3" lengthAdjust="spacingAndGlyphs">11 Jul 2019</text>
<text x="447.7" y="494" font-family="'Liberation Sans', sans-serif" font-size="9.7" text-rendering="geometricPrecision" fill="#000" stroke="#000" stroke-width="0.2" textLength="48.5" lengthAdjust="spacingAndGlyphs">2 Aug 2019</text>
<text x="512.2" y="494" font-family="'Liberation Sans', sans-serif" font-size="9.7" text-rendering="geometricPrecision" fill="#000" stroke="#000" stroke-width="0.2" textLength="52.4" lengthAdjust="spacingAndGlyphs">26 Aug 2019</text>
<text x="576.0" y="494" font-family="'Liberation Sans', sans-serif" font-size="9.7" text-rendering="geometricPrecision" fill="#000" stroke="#000" stroke-width="0.2" textLength="51.9" lengthAdjust="spacingAndGlyphs">17 Sep 2019</text>
<text x="639.8" y="494" font-family="'Liberation Sans', sans-serif" font-size="9.7" text-rendering="geometricPrecision" fill="#000" stroke="#000" stroke-width="0.2" textLength="45.5" lengthAdjust="spacingAndGlyphs">9 Oct 2019</text>
</g>
</svg>
</body></html>
